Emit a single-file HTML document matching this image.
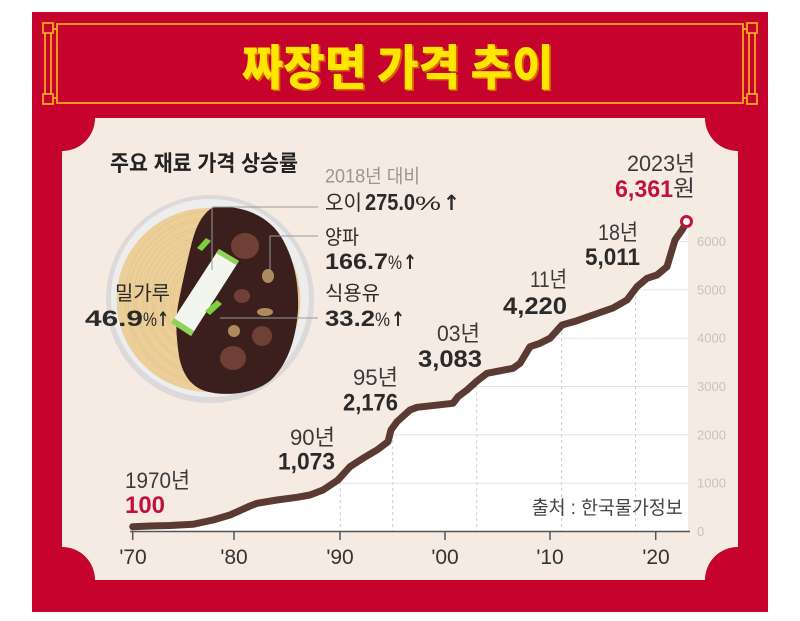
<!DOCTYPE html>
<html><head><meta charset="utf-8"><style>
html,body{margin:0;padding:0;background:#fff;}
svg{display:block;}
</style></head><body>
<svg width="800" height="621" viewBox="0 0 800 621" xmlns="http://www.w3.org/2000/svg" font-family="'Liberation Sans','Noto Sans CJK KR',sans-serif">
<defs>
<clipPath id="wc"><polygon points="132.7,526.7 150,526 170,525.5 193,524.3 213,520 230,515 250,506 257,503.3 277,500 297,497.3 310,495 323,490 338,480 350,466.7 363,458.3 377,450 388,441.7 391,430 397,421.7 410,410 417,407.3 453,403.3 458,396.7 467,390 477,381 487,373.3 513,368.3 520,363.3 530,346.7 540,343.3 550,338.3 562,325 577,320.7 593,315 613,308 627,300 637,286.7 647,278.3 657,275 667,266.7 675,240 682,230 687,221.7 688,221.7 688,531.5 132.7,531.5"/></clipPath>
<clipPath id="nc"><circle cx="208.5" cy="300" r="92"/></clipPath>
</defs>
<rect width="800" height="621" fill="#fff"/>
<rect x="32" y="12" width="736" height="600" fill="#c5032c"/>
<!-- title frame -->
<g fill="none" stroke="#f7a51f" stroke-width="1.8">
<rect x="57" y="24" width="686" height="79"/>
<rect x="43" y="23" width="10" height="10"/>
<rect x="43" y="94" width="10" height="10"/>
<line x1="45" y1="33" x2="45" y2="94"/>
<line x1="51" y1="33" x2="51" y2="94"/>
<line x1="53" y1="29" x2="57" y2="29"/>
<line x1="53" y1="98" x2="57" y2="98"/>
<rect x="747" y="23" width="10" height="10"/>
<rect x="747" y="94" width="10" height="10"/>
<line x1="755" y1="33" x2="755" y2="94"/>
<line x1="749" y1="33" x2="749" y2="94"/>
<line x1="743" y1="29" x2="747" y2="29"/>
<line x1="743" y1="98" x2="747" y2="98"/>
</g>
<text x="243.5" y="86" font-family="'Noto Sans CJK KR','Noto Sans CJK JP',sans-serif" font-weight="900" font-size="48" fill="#d9650a" textLength="312" lengthAdjust="spacingAndGlyphs">짜장면 가격 추이</text>
<text x="241.7" y="84.5" font-family="'Noto Sans CJK KR','Noto Sans CJK JP',sans-serif" font-weight="900" font-size="48" fill="#ffe600" textLength="312" lengthAdjust="spacingAndGlyphs">짜장면 가격 추이</text>
<!-- cream panel -->
<path d="M95,118 L705,118 A33,33 0 0 0 738,151 L738,547 A33,33 0 0 0 705,580 L95,580 A33,33 0 0 0 62,547 L62,151 A33,33 0 0 0 95,118 Z" fill="#f5ebe2"/>
<!-- white area -->
<rect x="130" y="200" width="560" height="332" fill="#ffffff" clip-path="url(#wc)"/>
<g clip-path="url(#wc)">
<g stroke="#e6e6e6" stroke-width="1">
<line x1="130" y1="483.2" x2="690" y2="483.2"/>
<line x1="130" y1="434.8" x2="690" y2="434.8"/>
<line x1="130" y1="386.5" x2="690" y2="386.5"/>
<line x1="130" y1="338.2" x2="690" y2="338.2"/>
<line x1="130" y1="289.8" x2="690" y2="289.8"/>
<line x1="130" y1="241.5" x2="690" y2="241.5"/>
</g>
<g stroke="#cfcfcf" stroke-width="1" stroke-dasharray="3,3">
<line x1="340.3" y1="200" x2="340.3" y2="531"/>
<line x1="392.7" y1="200" x2="392.7" y2="531"/>
<line x1="476.7" y1="200" x2="476.7" y2="531"/>
<line x1="561.5" y1="200" x2="561.5" y2="531"/>
<line x1="635.5" y1="200" x2="635.5" y2="531"/>
</g>
</g>
<!-- axis -->
<g stroke="#555" stroke-width="1.5">
<line x1="130" y1="531.5" x2="690" y2="531.5"/>
<line x1="132.7" y1="531.5" x2="132.7" y2="540"/>
<line x1="234" y1="531.5" x2="234" y2="540"/>
<line x1="340" y1="531.5" x2="340" y2="540"/>
<line x1="445" y1="531.5" x2="445" y2="540"/>
<line x1="550" y1="531.5" x2="550" y2="540"/>
<line x1="655.7" y1="531.5" x2="655.7" y2="540"/>
</g>
<g font-size="21" fill="#333" text-anchor="middle">
<text x="133" y="564">'70</text>
<text x="234" y="564">'80</text>
<text x="340" y="564">'90</text>
<text x="445" y="564">'00</text>
<text x="550" y="564">'10</text>
<text x="656" y="564">'20</text>
</g>
<g font-size="13" fill="#cbc1b9">
<text x="697" y="536">0</text>
<text x="697" y="487.7">1000</text>
<text x="697" y="439.3">2000</text>
<text x="697" y="391">3000</text>
<text x="697" y="342.7">4000</text>
<text x="697" y="294.3">5000</text>
<text x="697" y="246">6000</text>
</g>
<!-- line -->
<polyline fill="none" stroke="#5a3a33" stroke-width="7" stroke-linejoin="round" stroke-linecap="round" points="132.7,526.7 150,526 170,525.5 193,524.3 213,520 230,515 250,506 257,503.3 277,500 297,497.3 310,495 323,490 338,480 350,466.7 363,458.3 377,450 388,441.7 391,430 397,421.7 410,410 417,407.3 453,403.3 458,396.7 467,390 477,381 487,373.3 513,368.3 520,363.3 530,346.7 540,343.3 550,338.3 562,325 577,320.7 593,315 613,308 627,300 637,286.7 647,278.3 657,275 667,266.7 675,240 682,230 687,221.7"/>
<circle cx="686.5" cy="221.5" r="5" fill="#fff" stroke="#c2123a" stroke-width="3"/>
<!-- chart labels -->
<g font-size="22" fill="#3a3a3a">
<text x="125" y="488" textLength="65" lengthAdjust="spacingAndGlyphs">1970년</text>
<text x="290" y="445" textLength="45" lengthAdjust="spacingAndGlyphs">90년</text>
<text x="353" y="385" textLength="45" lengthAdjust="spacingAndGlyphs">95년</text>
<text x="437" y="341" textLength="43" lengthAdjust="spacingAndGlyphs">03년</text>
<text x="530" y="287" textLength="37" lengthAdjust="spacingAndGlyphs">11년</text>
<text x="598" y="240" textLength="40" lengthAdjust="spacingAndGlyphs">18년</text>
<text x="627" y="171" textLength="68" lengthAdjust="spacingAndGlyphs">2023년</text>
<text x="673" y="196" textLength="22" lengthAdjust="spacingAndGlyphs">원</text>
</g>
<g font-size="24" font-weight="bold" fill="#2a2a2a">
<text x="125" y="513" fill="#c2123a" textLength="40" lengthAdjust="spacingAndGlyphs">100</text>
<text x="278" y="469.5" textLength="57" lengthAdjust="spacingAndGlyphs">1,073</text>
<text x="343" y="410.5" textLength="55" lengthAdjust="spacingAndGlyphs">2,176</text>
<text x="418" y="367" textLength="64" lengthAdjust="spacingAndGlyphs">3,083</text>
<text x="503" y="314" textLength="64" lengthAdjust="spacingAndGlyphs">4,220</text>
<text x="585" y="265" textLength="55" lengthAdjust="spacingAndGlyphs">5,011</text>
<text x="615" y="197" fill="#c2123a" textLength="58" lengthAdjust="spacingAndGlyphs">6,361</text>
</g>
<text x="531.7" y="514" font-size="19" fill="#444" textLength="151" lengthAdjust="spacingAndGlyphs">출처 : 한국물가정보</text>
<!-- bowl -->
<circle cx="210" cy="299" r="104" fill="#dcd9da"/>
<circle cx="210" cy="298" r="99" fill="#eeeded"/>
<circle cx="208.5" cy="300" r="92" fill="#eccf98"/>
<g clip-path="url(#nc)" fill="none" stroke="#d8b67a" stroke-width="0.8" opacity="0.45">
<circle cx="212" cy="298" r="15"/><circle cx="210" cy="300" r="19"/><circle cx="212" cy="298" r="24"/><circle cx="210" cy="300" r="28"/><circle cx="212" cy="298" r="33"/><circle cx="210" cy="300" r="37"/><circle cx="212" cy="298" r="42"/><circle cx="210" cy="300" r="46"/><circle cx="212" cy="298" r="51"/><circle cx="210" cy="300" r="55"/><circle cx="212" cy="298" r="60"/><circle cx="210" cy="300" r="64"/><circle cx="212" cy="298" r="69"/><circle cx="210" cy="300" r="73"/><circle cx="212" cy="298" r="78"/><circle cx="210" cy="300" r="82"/><circle cx="212" cy="298" r="87"/>
</g>
<path d="M211.7,208 C235,204 268,212 283,240 C295,262 299,285 298,310 C296,340 287,365 271,380 C255,394 225,397 205,391 C190,386 182,373 179,356 C176,336 175,318 179,300 C183,280 187,262 191,246 C195,230 200,216 211.7,208 Z" fill="#3b1f1c"/>
<polygon points="219,249 239,261 191,336 171,323" fill="#f3f6ee"/>
<polygon points="219,249 239,261 236,265 216,253" fill="#8ed257"/>
<polygon points="174,318 194,331 191,336 171,323" fill="#8ed257"/>
<polygon points="197,248 206,238 211,241 202,251" fill="#7fcf3f"/>
<polygon points="205,311 217,300 222,304 210,315" fill="#7fcf3f"/>
<ellipse cx="245" cy="246" rx="14" ry="13" fill="#6e4036"/>
<ellipse cx="242" cy="296" rx="8" ry="7" fill="#6e4036"/>
<ellipse cx="262" cy="336" rx="10" ry="10" fill="#6e4036"/>
<ellipse cx="233" cy="358" rx="13" ry="12" fill="#6e4036"/>
<ellipse cx="268" cy="276" rx="6" ry="7" fill="#b08a5c"/>
<ellipse cx="265" cy="312" rx="8" ry="4" fill="#b08a5c"/>
<ellipse cx="234" cy="331" rx="6" ry="6" fill="#b08a5c"/>
<g stroke="#9a9a9a" stroke-width="1" fill="none">
<path d="M212,207 H318 M212,207 V270"/>
<path d="M270,236 H318 M270,236 V275"/>
<path d="M220,318 H318"/>
</g>
<!-- ingredient texts -->
<text x="110" y="171" font-size="22" font-weight="bold" fill="#222" textLength="188" lengthAdjust="spacingAndGlyphs">주요 재료 가격 상승률</text>
<text x="325" y="182.5" font-size="19" fill="#9b9592" textLength="95" lengthAdjust="spacingAndGlyphs">2018년 대비</text>
<g fill="#2a2a2a">
<text x="325" y="210" font-size="21" textLength="37" lengthAdjust="spacingAndGlyphs">오이</text>
<text x="365" y="210" font-size="23" font-weight="bold" textLength="50" lengthAdjust="spacingAndGlyphs">275.0</text>
<text x="415" y="210" font-size="19" textLength="26" lengthAdjust="spacingAndGlyphs">%</text>
<text x="443" y="210" font-size="21" font-weight="bold" font-family="'DejaVu Sans',sans-serif" textLength="17" lengthAdjust="spacingAndGlyphs">↑</text>

<text x="325" y="244" font-size="20" textLength="34" lengthAdjust="spacingAndGlyphs">양파</text>
<text x="325" y="269" font-size="22" font-weight="bold" textLength="63" lengthAdjust="spacingAndGlyphs">166.7</text>
<text x="388" y="269" font-size="19" textLength="14" lengthAdjust="spacingAndGlyphs">%</text>
<text x="403" y="269" font-size="20" font-weight="bold" font-family="'DejaVu Sans',sans-serif" textLength="14" lengthAdjust="spacingAndGlyphs">↑</text>

<text x="325" y="300" font-size="20" textLength="55" lengthAdjust="spacingAndGlyphs">식용유</text>
<text x="325" y="326" font-size="22" font-weight="bold" textLength="50" lengthAdjust="spacingAndGlyphs">33.2</text>
<text x="375" y="326" font-size="19" textLength="15" lengthAdjust="spacingAndGlyphs">%</text>
<text x="391" y="326" font-size="20" font-weight="bold" font-family="'DejaVu Sans',sans-serif" textLength="14" lengthAdjust="spacingAndGlyphs">↑</text>

<text x="115" y="300" font-size="20" textLength="55" lengthAdjust="spacingAndGlyphs">밀가루</text>
<text x="85" y="326" font-size="22" font-weight="bold" textLength="58" lengthAdjust="spacingAndGlyphs">46.9</text>
<text x="143" y="326" font-size="19" textLength="14" lengthAdjust="spacingAndGlyphs">%</text>
<text x="157" y="326" font-size="20" font-weight="bold" font-family="'DejaVu Sans',sans-serif" textLength="12" lengthAdjust="spacingAndGlyphs">↑</text>
</g>
</svg>
</body></html>
